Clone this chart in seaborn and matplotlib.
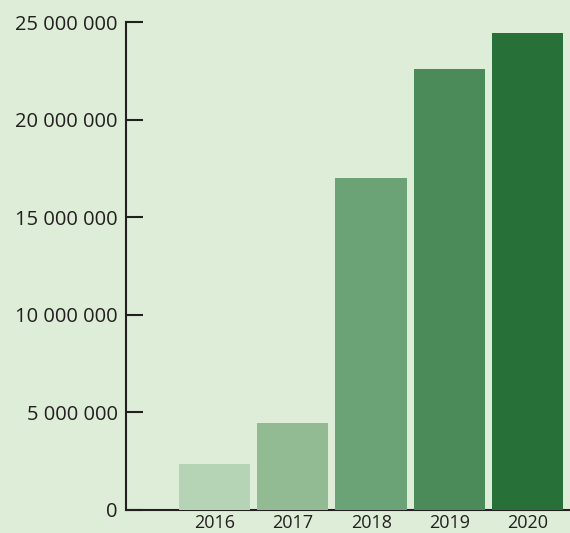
import seaborn as sns
import matplotlib.pyplot as plt
import matplotlib.ticker as mticker
import pandas as pd

years = ['2016', '2017', '2018', '2019', '2020']
values = [2_360_000, 4_470_000, 17_000_000, 22_600_000, 24_450_000]
colors = ['#B5D4B6', '#92BB94', '#6CA376', '#4B8A59', '#277139']

df = pd.DataFrame({'Year': years, 'Value': values})

sns.set_style('white')
plt.rcParams['font.family'] = ['Open Sans', 'DejaVu Sans']

bg = '#DDEDD7'
fig = plt.figure(figsize=(5.7, 5.33), dpi=100, facecolor=bg)
ax = fig.add_axes([0.221, 0.0432, 0.779, 0.9155])
ax.set_facecolor(bg)

sns.barplot(data=df, x='Year', y='Value', hue='Year', palette=colors,
            legend=False, width=0.91, saturation=1, linewidth=0, ax=ax)

ax.set_ylim(0, 25_000_000)
ax.set_xlim(-1.13, 4.54)
ax.yaxis.set_major_locator(mticker.MultipleLocator(5_000_000))
ax.yaxis.set_major_formatter(
    mticker.FuncFormatter(lambda v, _: f'{int(v):,}'.replace(',', ' ')))

ax.set_xlabel('')
ax.set_ylabel('')
for s in ['top', 'right']:
    ax.spines[s].set_visible(False)
for s in ['left', 'bottom']:
    ax.spines[s].set_color('#231F20')
    ax.spines[s].set_linewidth(1.5)
ax.spines['bottom'].set_zorder(0.5)

ax.tick_params(axis='y', left=True, direction='in', length=12, width=1.5,
               color='#231F20', labelsize=14.5, labelcolor='#231F20', pad=6)
ax.tick_params(axis='x', bottom=False, length=0, labelsize=13,
               labelcolor='#231F20', pad=3)

plt.savefig('out.png', dpi=100, facecolor=bg)
